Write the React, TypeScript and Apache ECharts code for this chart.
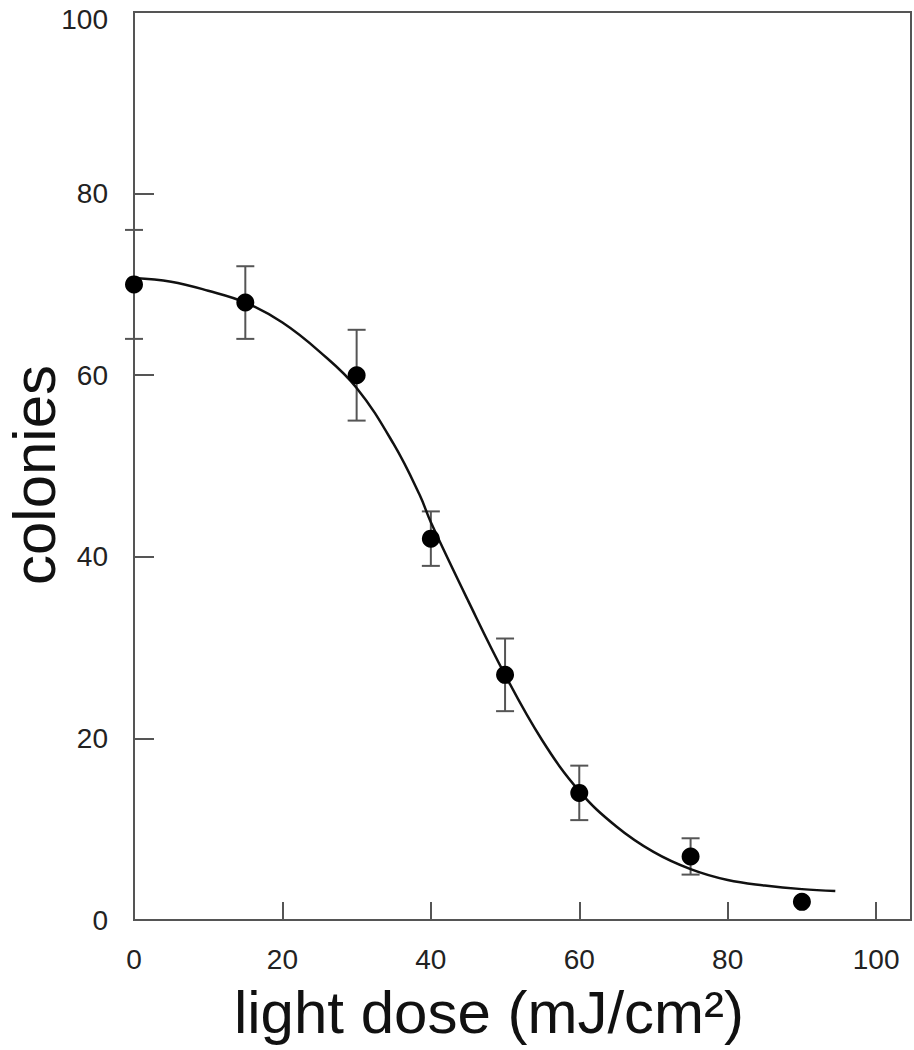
import React, { useEffect, useRef } from "react";
import * as echarts from "echarts";

const doses = [0, 15, 30, 40, 50, 60, 75, 90];
const colonies = [70, 68, 60, 42, 27, 14, 7, 2];
const errLow = [64, 64, 55, 39, 23, 11, 5, null];
const errHigh = [76, 72, 65, 45, 31, 17, 9, null];

const fitX = [0, 5, 10, 15, 20, 25, 30, 35, 38.5, 40, 45, 50, 55, 60, 65, 70, 75, 80, 85, 90, 94.5];
const fitY = [70.7, 70.3, 69.3, 68.0, 65.8, 62.6, 58.6, 52.4, 46.8, 43.8, 35.2, 27.0, 19.8, 14.2, 10.3, 7.5, 5.6, 4.4, 3.8, 3.4, 3.2];

const xTicks = [0, 20, 40, 60, 80, 100];
const yTicks = [0, 20, 40, 60, 80, 100];
const xTitle = "light dose (mJ/cm²)";
const yTitle = "colonies";

const FONT = "Liberation Sans, Arial, Helvetica, sans-serif";

export default function App() {
  const ref = useRef<HTMLDivElement>(null);
  useEffect(() => {
    if (!ref.current) return;
    const chart = echarts.init(ref.current, null, { renderer: "svg" });
    const errData = doses
      .map((d, i) => [d, errLow[i], errHigh[i]])
      .filter((r) => r[1] != null);
    chart.setOption({
      animation: false,
      backgroundColor: "#fff",
      grid: {
        left: 134,
        right: 3,
        top: 12,
        bottom: 130,
        show: true,
        containLabel: false,
        outerBoundsMode: "none",
        borderColor: "#555",
        borderWidth: 2,
        backgroundColor: "transparent",
      },
      graphic: [
        {
          type: "text",
          x: 489,
          y: 1012,
          style: {
            text: xTitle,
            fontFamily: FONT,
            fontSize: 60,
            fill: "#111",
            textAlign: "center",
            textVerticalAlign: "middle",
          },
        },
        {
          type: "text",
          x: 34,
          y: 475,
          rotation: Math.PI / 2,
          style: {
            text: yTitle,
            fontFamily: FONT,
            fontSize: 60,
            fill: "#111",
            textAlign: "center",
            textVerticalAlign: "middle",
          },
        },
      ],
      xAxis: {
        type: "value",
        min: 0,
        max: 104.7,
        interval: 20,
        axisLine: { show: true, onZero: false, lineStyle: { color: "#555", width: 2 } },
        axisTick: {
          show: true,
          inside: true,
          length: 18,
          customValues: [20, 40, 60, 80, 100],
          lineStyle: { color: "#555", width: 2 },
        },
        axisLabel: {
          customValues: xTicks,
          fontFamily: FONT,
          fontSize: 28,
          color: "#222",
          margin: 25,
        },
        splitLine: { show: false },
      },
      yAxis: {
        type: "value",
        min: 0,
        max: 100,
        interval: 20,
        axisLine: { show: true, lineStyle: { color: "#555", width: 2 } },
        axisTick: {
          show: true,
          inside: true,
          length: 20,
          customValues: [20, 40, 60, 80],
          lineStyle: { color: "#555", width: 2 },
        },
        axisLabel: {
          customValues: yTicks,
          fontFamily: FONT,
          fontSize: 28,
          color: "#222",
          margin: 26,
          formatter: (v: number) => (v === 100 ? "{t|100}" : String(v)),
          rich: {
            t: {
              fontFamily: FONT,
              fontSize: 28,
              color: "#222",
              padding: [14, 0, 0, 0],
            },
          },
        },
        splitLine: { show: false },
      },
      series: [
        {
          type: "custom",
          name: "error",
          data: errData,
          z: 2,
          renderItem: (params: any, api: any) => {
            const x = api.value(0);
            const lo = api.coord([x, api.value(1)]);
            const hi = api.coord([x, api.value(2)]);
            const w = 9;
            const style = { stroke: "#555", lineWidth: 2 };
            return {
              type: "group",
              children: [
                { type: "line", shape: { x1: lo[0], y1: lo[1], x2: hi[0], y2: hi[1] }, style },
                { type: "line", shape: { x1: lo[0] - w, y1: lo[1], x2: lo[0] + w, y2: lo[1] }, style },
                { type: "line", shape: { x1: hi[0] - w, y1: hi[1], x2: hi[0] + w, y2: hi[1] }, style },
              ],
            };
          },
        },
        {
          type: "line",
          name: "fit",
          data: fitX.map((x, i) => [x, fitY[i]]),
          smooth: 0.4,
          showSymbol: false,
          symbol: "none",
          lineStyle: { color: "#111", width: 2.5 },
          z: 3,
        },
        {
          type: "scatter",
          name: "data",
          data: doses.map((d, i) => [d, colonies[i]]),
          symbol: "circle",
          symbolSize: 18,
          itemStyle: { color: "#000", opacity: 1 },
          z: 4,
        },
      ],
    });
    return () => chart.dispose();
  }, []);
  return <div ref={ref} style={{ width: 914, height: 1050, position: "absolute", left: 0, top: 0 }} />;
}
